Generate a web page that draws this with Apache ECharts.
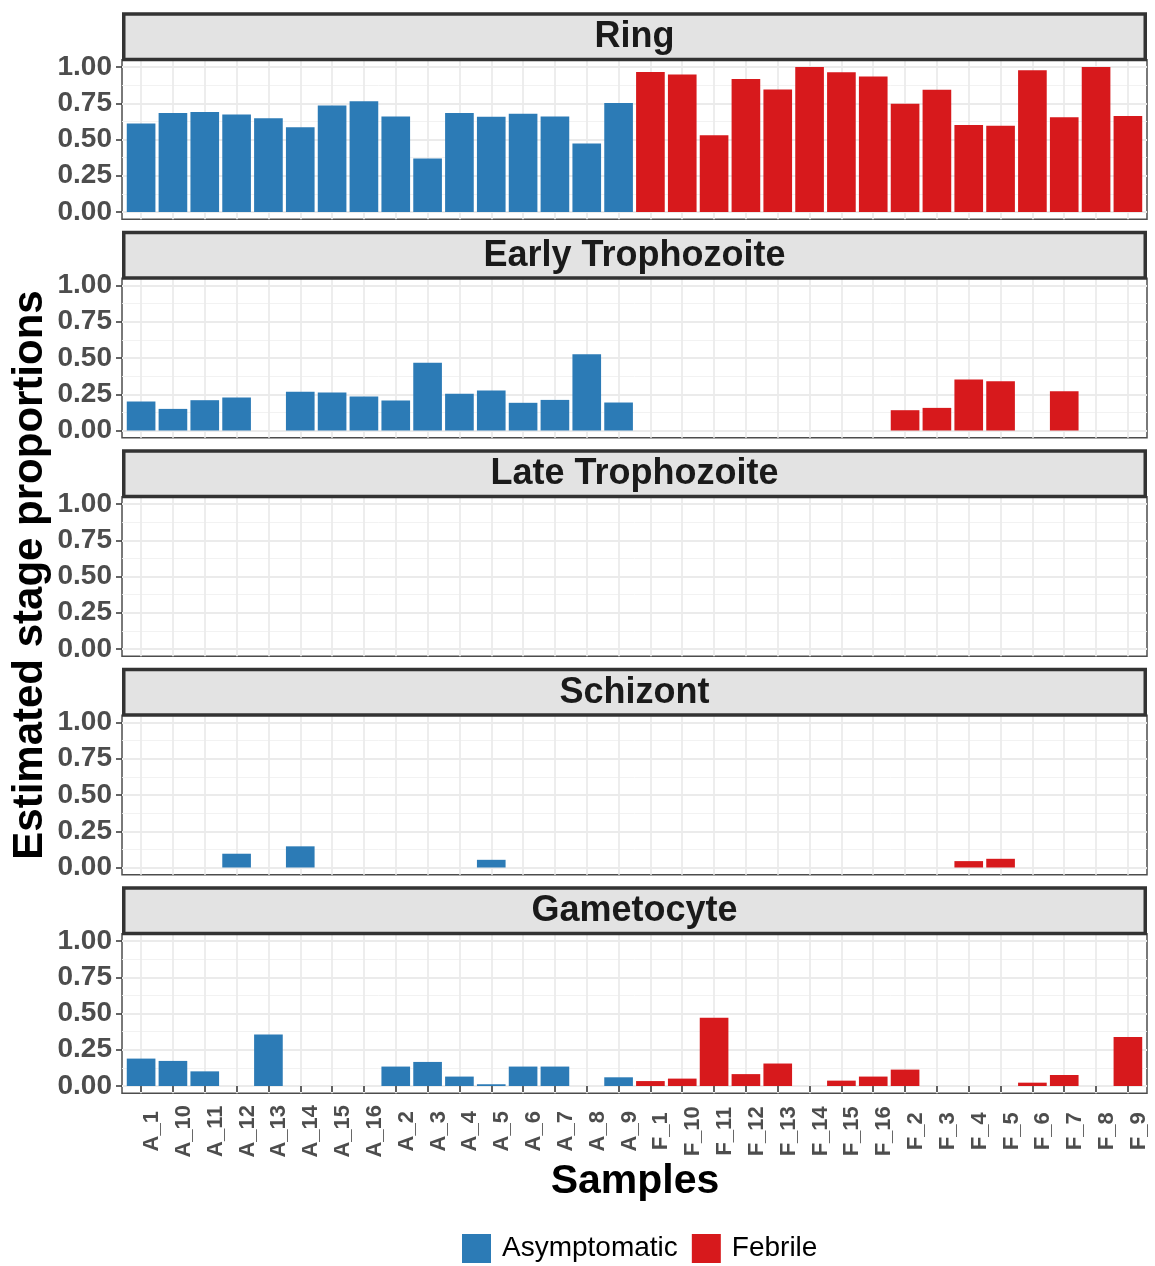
<!DOCTYPE html>
<html>
<head>
<meta charset="utf-8">
<title>Estimated stage proportions</title>
<script src="https://cdn.jsdelivr.net/npm/echarts@6/dist/echarts.min.js"></script>
<style>
  html, body { margin: 0; padding: 0; background: #ffffff; }
  #chart { width: 1155px; height: 1266px; }
</style>
</head>
<body>
<div id="chart"></div>
<script>
// Samples in the (alphabetical) order they appear on the x axis
const samples = ['A_1','A_10','A_11','A_12','A_13','A_14','A_15','A_16','A_2','A_3','A_4','A_5','A_6','A_7','A_8','A_9',
                 'F_1','F_10','F_11','F_12','F_13','F_14','F_15','F_16','F_2','F_3','F_4','F_5','F_6','F_7','F_8','F_9'];
const groupNames = ['Asymptomatic', 'Febrile'];
const groupOf = ['A','A','A','A','A','A','A','A','A','A','A','A','A','A','A','A',
                 'F','F','F','F','F','F','F','F','F','F','F','F','F','F','F','F'];

const stages = ['Ring', 'Early Trophozoite', 'Late Trophozoite', 'Schizont', 'Gametocyte'];

// Estimated proportion of each stage per sample
const ring = [0.611,0.682,0.689,0.673,0.647,0.585,0.735,0.763,0.659,0.369,0.682,0.657,0.677,0.659,0.472,0.751,
              0.966,0.949,0.530,0.918,0.845,1.000,0.963,0.935,0.747,0.843,0.600,0.595,0.977,0.654,1.000,0.662];
const earlyTroph = [0.200,0.149,0.209,0.228,0,0.267,0.262,0.234,0.207,0.467,0.253,0.276,0.191,0.211,0.526,0.193,
                    0,0,0,0,0,0,0,0,0.140,0.156,0.352,0.340,0,0.271,0,0];
const lateTroph = [0,0,0,0,0,0,0,0,0,0,0,0,0,0,0,0,
                   0,0,0,0,0,0,0,0,0,0,0,0,0,0,0,0];
const schizont = [0,0,0,0.095,0,0.146,0,0,0,0,0,0.053,0,0,0,0,
                  0,0,0,0,0,0,0,0,0,0,0.044,0.060,0,0,0,0];
const gametocyte = [0.189,0.173,0.101,0,0.355,0,0,0,0.134,0.166,0.065,0.012,0.134,0.134,0,0.060,
                    0.034,0.051,0.470,0.082,0.155,0,0.037,0.065,0.113,0,0,0,0.023,0.076,0,0.338];

const yTicks = [0, 0.25, 0.5, 0.75, 1];
const yMinor = [0.125, 0.375, 0.625, 0.875];

const stageValues = [ring, earlyTroph, lateTroph, schizont, gametocyte];
const colors = { Asymptomatic: '#2C7BB6', Febrile: '#D7191C' };

// ---- facet geometry ----
const FONT = '"Liberation Sans", Arial, sans-serif';
const plotLeft = 122, plotWidth = 1025;
const unitPx = 145;                 // pixels for a proportion of 1
const padPx = unitPx * 0.05;        // 5% expansion above and below
const panelStep = 218.5;
const firstZero = 212;
const stripH = 47.5;
const nCat = samples.length;
const catPx = plotWidth / (nCat - 1 + 1.2);   // discrete scale with 0.6 padding each side
const catPositions = samples.map(function (s, i) { return i + 1; });

const grids = [], xAxes = [], yAxes = [], series = [], graphics = [];

stages.forEach(function (stage, k) {
  const zeroY = firstZero + k * panelStep;
  const plotTop = zeroY - unitPx - padPx;
  const plotH = unitPx + 2 * padPx;
  const isLast = k === stages.length - 1;

  // frame grid: background, border and grid lines
  const fg = grids.length;
  grids.push({
    left: plotLeft, top: plotTop, width: plotWidth, height: plotH,
    outerBoundsMode: 'none', containLabel: false,
    show: true, backgroundColor: '#ffffff', borderColor: '#4D4D4D', borderWidth: 1.5
  });
  xAxes.push({
    gridIndex: fg, type: 'value', position: 'bottom', min: 0.4, max: nCat + 0.6,
    axisLine: { show: false },
    axisTick: {
      show: isLast, length: 6, lineStyle: { color: '#333333', width: 1.5 },
      customValues: catPositions
    },
    axisLabel: {
      show: isLast,
      customValues: catPositions,
      formatter: function (v) { return samples[Math.round(v) - 1]; },
      rotate: 90, align: 'center', verticalAlign: 'top', margin: 38,
      fontFamily: FONT, fontWeight: 'bold', fontSize: 22, color: '#4D4D4D'
    },
    splitLine: { show: true, lineStyle: { color: '#EBEBEB', width: 1.8 } }
  });
  // minor horizontal lines
  yAxes.push({
    gridIndex: fg, type: 'value', position: 'left', min: -0.05, max: 1.05,
    axisLine: { show: false },
    axisTick: { show: false, customValues: yMinor },
    axisLabel: { show: false, customValues: yMinor },
    splitLine: { show: true, lineStyle: { color: '#F0F0F0', width: 0.9 } }
  });
  // major horizontal lines with tick labels
  yAxes.push({
    gridIndex: fg, type: 'value', position: 'left', min: -0.05, max: 1.05,
    axisLine: { show: false },
    axisTick: { show: true, length: 6, lineStyle: { color: '#333333', width: 1.5 }, customValues: yTicks },
    axisLabel: {
      customValues: yTicks, margin: 10,
      formatter: function (v) { return v.toFixed(2); },
      fontFamily: FONT, fontWeight: 'bold', fontSize: 28, color: '#4D4D4D'
    },
    splitLine: { show: true, lineStyle: { color: '#EBEBEB', width: 1.8 } }
  });

  // data grid: bars on a category scale spanning the inner region
  const dg = grids.length;
  grids.push({
    left: plotLeft + 0.1 * catPx, top: zeroY - unitPx, width: nCat * catPx, height: unitPx,
    outerBoundsMode: 'none', containLabel: false
  });
  const dx = xAxes.length;
  xAxes.push({ gridIndex: dg, type: 'category', data: samples, show: false });
  const dy = yAxes.length;
  yAxes.push({ gridIndex: dg, type: 'value', min: 0, max: 1, show: false });

  groupNames.forEach(function (g) {
    const vals = stageValues[k].map(function (v, i) {
      return groupOf[i] === g[0] ? v : '-';
    });
    series.push({
      name: g, type: 'bar', xAxisIndex: dx, yAxisIndex: dy,
      stack: 'stage' + k, barWidth: '90%', data: vals,
      itemStyle: { color: colors[g] }, silent: true, animation: false
    });
  });

  // facet strip
  graphics.push({
    type: 'rect', z: 10,
    shape: { x: plotLeft + 1.75, y: plotTop - stripH + 1.75, width: plotWidth - 3.5, height: stripH - 2 },
    style: { fill: '#E3E3E3', stroke: '#333333', lineWidth: 3.5 }
  });
  graphics.push({
    type: 'text', z: 11,
    x: plotLeft + plotWidth / 2, y: plotTop - stripH / 2 + 1.5,
    style: { text: stage, font: 'bold 36px ' + FONT, fill: '#1A1A1A', align: 'center', verticalAlign: 'middle' }
  });
});

// axis titles
graphics.push({
  type: 'text', x: 635, y: 1182,
  style: { text: 'Samples', font: 'bold 41px ' + FONT, fill: '#000000', align: 'center', verticalAlign: 'middle' }
});
graphics.push({
  type: 'text', x: 30, y: 575, rotation: Math.PI / 2,
  style: { text: 'Estimated stage proportions', font: 'bold 42px ' + FONT, fill: '#000000', align: 'center', verticalAlign: 'middle' }
});

const chart = echarts.init(document.getElementById('chart'), null, { renderer: 'canvas' });
chart.setOption({
  animation: false,
  backgroundColor: '#ffffff',
  grid: grids,
  xAxis: xAxes,
  yAxis: yAxes,
  series: series,
  legend: {
    data: groupNames, left: 462, top: 1234, padding: 0,
    icon: 'rect', itemWidth: 29, itemHeight: 29, itemGap: 14, selectedMode: false,
    textStyle: { fontFamily: FONT, fontSize: 28, color: '#000000', padding: [0, 0, 0, 6] }
  },
  graphic: graphics
});
</script>
</body>
</html>
